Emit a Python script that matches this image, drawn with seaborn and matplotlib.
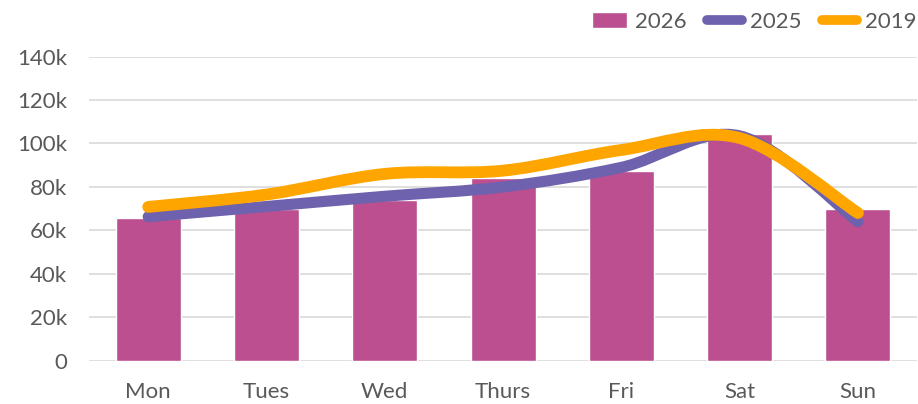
import numpy as np
import pandas as pd
import matplotlib
matplotlib.use("Agg")
import matplotlib.pyplot as plt
import seaborn as sns
from matplotlib.path import Path
from matplotlib.patches import PathPatch, Patch
from matplotlib.lines import Line2D
from matplotlib.ticker import FuncFormatter

# chart data
days = ["Mon", "Tues", "Wed", "Thurs", "Fri", "Sat", "Sun"]
sales_2026 = [65600, 69800, 74000, 84000, 87400, 104300, 69700]
sales_2025 = [66300, 71000, 75700, 80000, 89000, 103500, 64000]
sales_2019 = [70800, 76500, 86000, 87500, 97000, 102500, 68000]

bar_color = "#BC4F8F"
purple = "#6E62AE"
orange = "#FFA500"
text_color = "#595959"


def smooth_path(xs, ys):
    # catmull-rom style bezier through the points, like excel's smoothed line
    pts = np.column_stack([xs, ys]).astype(float)
    ext = np.vstack([pts[0], pts, pts[-1]])
    verts = [pts[0]]
    codes = [Path.MOVETO]
    for i in range(1, len(ext) - 2):
        p0, p1, p2, p3 = ext[i - 1], ext[i], ext[i + 1], ext[i + 2]
        c1 = p1 + (p2 - p0) / 6
        c2 = p2 - (p3 - p1) / 6
        verts += [c1, c2, p2]
        codes += [Path.CURVE4] * 3
    return Path(verts, codes)


df = pd.DataFrame({"day": days, "2026": sales_2026})

sns.set_style("white")
plt.rcParams["font.family"] = ["Lato", "DejaVu Sans"]

fig = plt.figure(figsize=(9.18, 4.04), dpi=100)
ax = fig.add_axes([0.097, 0.107, 0.902, 0.753])

sns.barplot(data=df, x="day", y="2026", color=bar_color, width=0.55,
            saturation=1, ax=ax, zorder=2)

xs = np.arange(len(days))
for vals, col, lw in [(sales_2025, purple, 8), (sales_2019, orange, 8.5)]:
    patch = PathPatch(smooth_path(xs, vals), facecolor="none", edgecolor=col,
                      lw=lw, capstyle="round", joinstyle="round", zorder=3)
    ax.add_patch(patch)

ax.set_ylim(0, 140000)
ax.set_xlim(-0.5, len(days) - 0.5)
ax.set_yticks(np.arange(0, 140001, 20000))
ax.yaxis.set_major_formatter(FuncFormatter(lambda v, p: "0" if v == 0 else f"{v/1000:.0f}k"))
ax.grid(axis="y", color="#D9D9D9", lw=1.2, zorder=0)
ax.set_axisbelow(True)
for s in ax.spines.values():
    s.set_visible(False)
ax.tick_params(axis="both", length=0, labelsize=16, colors=text_color)
ax.tick_params(axis="x", pad=15)
ax.tick_params(axis="y", pad=16)
ax.set_xlabel("")
ax.set_ylabel("")

handles = [
    Patch(facecolor=bar_color, label="2026"),
    Line2D([0], [0], color=purple, lw=7, solid_capstyle="round", label="2025"),
    Line2D([0], [0], color=orange, lw=7, solid_capstyle="round", label="2019"),
]
leg = fig.legend(handles=handles, ncol=3, frameon=False, loc="upper right",
                 bbox_to_anchor=(1.02, 1.02), fontsize=16, handlelength=1.6,
                 handletextpad=0.35, columnspacing=0.9)
for t in leg.get_texts():
    t.set_color(text_color)

fig.savefig("out.png", dpi=100)
